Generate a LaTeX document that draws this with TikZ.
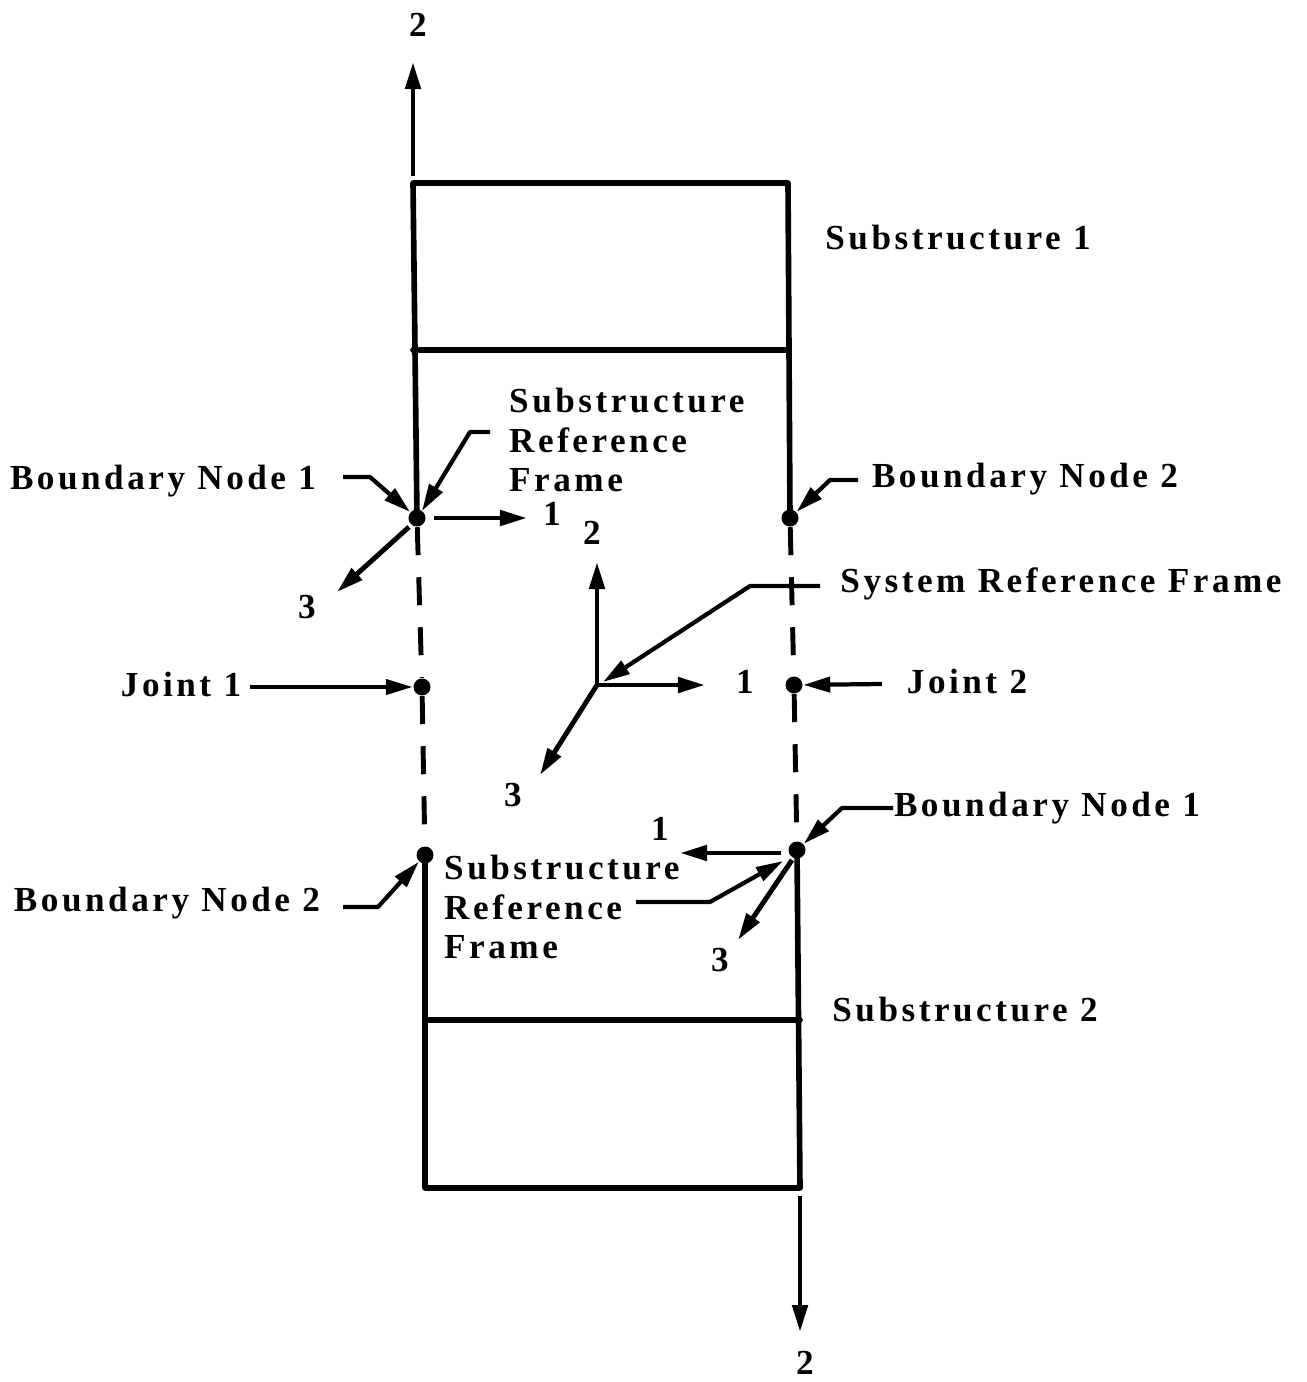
\documentclass[tikz,border=0pt]{standalone}
\usepackage{fontspec}
\setmainfont{Liberation Serif}[LetterSpace=10]
\usetikzlibrary{arrows.meta,calc,positioning}

\begin{document}
\begin{tikzpicture}[x=0.01cm,y=-0.01cm,>={Triangle[length=2.7mm,width=1.5mm]},
    font=\fontsize{10}{11.2}\selectfont\bfseries,
    frame/.style={line width=1.6pt,line cap=round,line join=round},
    axis/.style={line width=1.4pt,->},
    lead/.style={line width=1.2pt,->,line join=round},
    gap/.style={line width=1.4pt,dash pattern=on 2.8mm off 2.2mm},
    joint/.style={circle,fill,inner sep=0pt,minimum size=0.17cm},
    lbl/.style={inner sep=1pt}]
    \useasboundingbox (0,0) rectangle (1307,1382);
    % points on the two substructures and the joints
    \node[joint] (bnA) at (417,518) {};
    \node[joint] (bnB) at (790,518) {};
    \node[joint] (jA) at (422,687) {};
    \node[joint] (jB) at (794,685) {};
    \node[joint] (bnD) at (425,855) {};
    \node[joint] (bnC) at (797,850) {};
    \coordinate (sys) at (597,685);
    % substructure 1
    \draw[frame] (bnA.center) -- (413,183) -- (788,183) -- (bnB.center);
    \draw[frame] (413,350) -- (788,350);
    % substructure 2
    \draw[frame] (bnC.center) -- (800,1188) -- (425,1188) -- (bnD.center);
    \draw[frame] (425,1020) -- (800,1020);
    % joints
    \draw[gap] (bnA) -- (jA) -- (bnD);
    \draw[gap] (bnB) -- (jB) -- (bnC);
    % global 2 axis
    \coordinate (upA) at (413,62);
    \coordinate (dnA) at (800,1332);
    \draw[axis] (413,176) -- (upA);
    \draw[axis] (800,1196) -- (dnA);
    \node[lbl] (upL) at (418,25) {2};
    \node[lbl] (dnL) at (805,1363) {2};
    % substructure reference frame, upper
    \coordinate (aA1) at (527,518);
    \coordinate (aA3) at (337,592);
    \draw[axis] (bnA.east) ++(8,0) -- (aA1);
    \draw[axis] ($(bnA)+(-8,9)$) -- (aA3);
    \node[lbl] at (552,514) {1};
    \node[lbl] at (307,607) {3};
    % system reference frame
    \coordinate (s1) at (705,685);
    \coordinate (s2) at (597,562);
    \coordinate (s3) at (540,775);
    \draw[axis] (sys) -- (s1);
    \draw[axis] (sys) -- (s2);
    \draw[axis] (sys) -- (s3);
    \node[lbl] at (745,682) {1};
    \node[lbl] at (592,533) {2};
    \node[lbl] at (513,795) {3};
    % substructure reference frame, lower
    \coordinate (aC1) at (680,853);
    \coordinate (aC3) at (738,940);
    \draw[axis] ($(bnC)+(-16,3)$) -- (aC1);
    \draw[axis] ($(bnC)+(-5,10)$) -- (aC3);
    \node[lbl] at (660,829) {1};
    \node[lbl] at (720,960) {3};
    % labels
    \node[lbl] (sub1) at (958,238) {Substructure 1};
    \node[lbl] (sub2) at (965,1010) {Substructure 2};
    \node[lbl,align=left,anchor=north west] (srfA) at (505,384) {Substructure\\Reference\\Frame};
    \node[lbl,align=left,anchor=north west] (srfC) at (440,851) {Substructure\\Reference\\Frame};
    \node[lbl] (bnAL) at (163,481) {Boundary Node 1};
    \node[lbl] (bnBL) at (1025,479) {Boundary Node 2};
    \node[lbl] (bnCL) at (1047,808) {Boundary Node 1};
    \node[lbl] (bnDL) at (167,903) {Boundary Node 2};
    \node[lbl] (sysL) at (1061,584) {System Reference Frame};
    \node[lbl] (jAL) at (181,684) {Joint 1};
    \node[lbl] (jBL) at (967,681) {Joint 2};
    % leaders
    \draw[lead] (343,477) -- (370,477) -- (bnA);
    \draw[lead] (490,432) -- (470,432) -- ($(bnA)+(5,-7)$);
    \draw[lead] (858,480) -- (830,480) -- (bnB);
    \draw[lead] (820,586) -- (750,586) -- ($(sys)+(6,-3)$);
    \draw[lead] (250,687) -- (jA);
    \draw[lead] (882,684) -- (jB);
    \draw[lead] (893,808) -- (842,808) -- (bnC);
    \draw[lead] (636,902) -- (710,902) -- ($(bnC)+(-14,11)$);
    \draw[lead] (343,907) -- (378,907) -- (bnD);
\end{tikzpicture}
\end{document}
